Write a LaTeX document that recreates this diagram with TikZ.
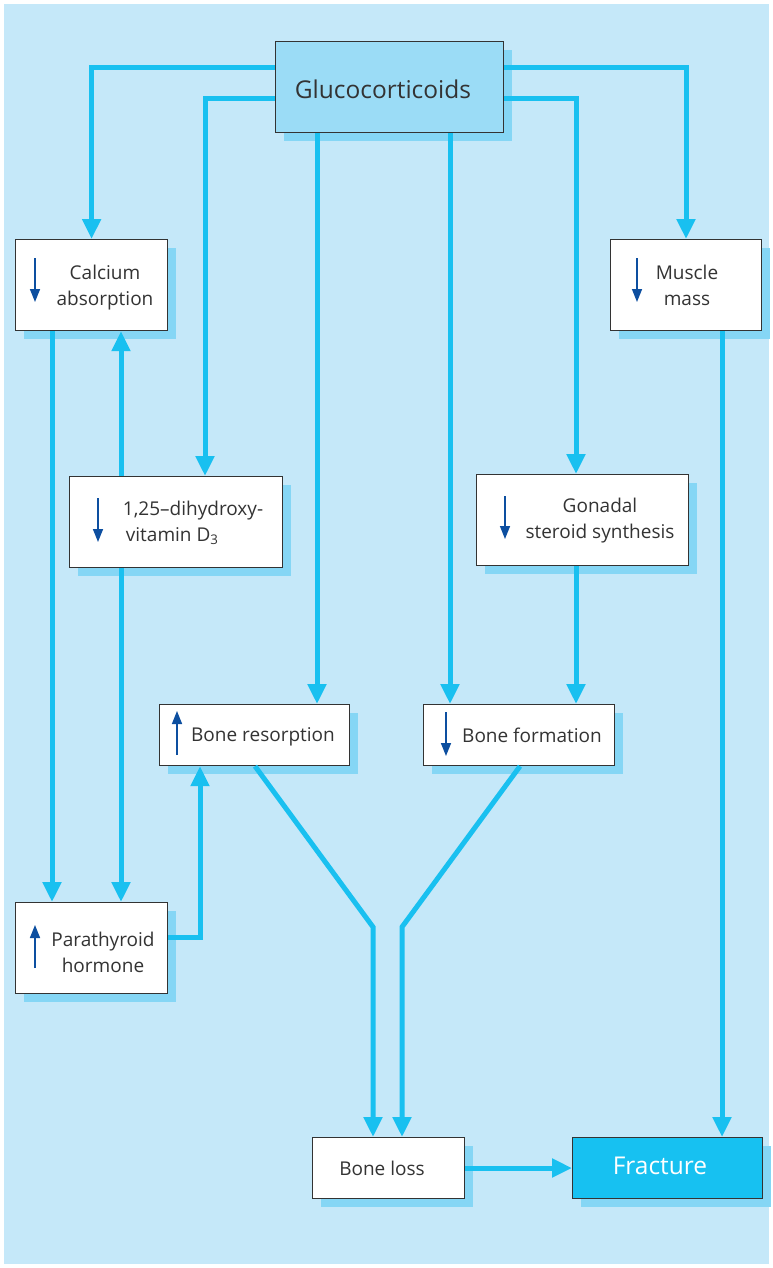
\documentclass[tikz,border=0pt]{standalone}
\usepackage{fontspec}
\setmainfont{Open Sans}
\usetikzlibrary{arrows.meta,shadows}
\definecolor{bgc}{HTML}{C5E8F9}
\definecolor{linec}{HTML}{19C0F0}
\definecolor{shadc}{HTML}{85D6F5}
\definecolor{gluc}{HTML}{9BDCF6}
\definecolor{fracc}{HTML}{17C1F1}
\definecolor{darr}{HTML}{0D4FA0}
\definecolor{txt}{HTML}{333333}
\begin{document}
\begin{tikzpicture}[x=1pt,y=-1pt,
 box/.style={draw=txt, line width=1.2pt, fill=white, anchor=north west, inner sep=0pt,
   general shadow={fill=shadc, draw=none, shadow xshift=8pt, shadow yshift=-8pt}},
 conn/.style={draw=linec, line width=5pt, -{Triangle[width=18pt,length=20pt]}},
 sarr/.style={draw=darr, line width=1.5pt, -{Triangle[width=10pt,length=13pt]}},
 lbl/.style={text=txt, font=\fontsize{19}{26}\selectfont, align=center, inner sep=0pt},
 big/.style={font=\fontsize{24.5}{28}\selectfont, inner sep=0pt}]
\useasboundingbox (0,0) rectangle (773,1268);
\fill[white] (0,0) rectangle (773,1268);
\fill[bgc] (4,4) rectangle (769,1264);

% boxes
\node[box, fill=gluc, minimum width=228pt, minimum height=91pt] (gluco) at (275,41) {};
\node[box, minimum width=152pt, minimum height=91pt] (calc) at (15,239) {};
\node[box, minimum width=151pt, minimum height=91pt] (muscle) at (610,239) {};
\node[box, minimum width=213pt, minimum height=91pt] (vitD) at (69,476) {};
\node[box, minimum width=212pt, minimum height=91pt] (gonad) at (476,474) {};
\node[box, minimum width=190pt, minimum height=61pt] (bres) at (159,704) {};
\node[box, minimum width=191pt, minimum height=61pt] (bform) at (423,704) {};
\node[box, minimum width=152pt, minimum height=91pt] (para) at (15,902) {};
\node[box, minimum width=152pt, minimum height=61pt] (bloss) at (312,1137) {};
\node[box, fill=fracc, minimum width=190pt, minimum height=61pt] (frac) at (572,1137) {};

% labels
\node[big, text=txt] (tgluco) at (383,89) {Glucocorticoids};
\node[lbl] (tcalc) at (105,288) {Calcium\\absorption};
\node[lbl] (tmuscle) at (687,285) {Muscle\\mass};
\node[lbl, align=left] (tvitD) at (193,523) {1,25--dihydroxy-\\\hspace{3pt}vitamin D\textsubscript{3}};
\node[lbl] (tgonad) at (600,521) {Gonadal\\steroid synthesis};
\node[lbl] (tbres) at (263,737) {Bone resorption};
\node[lbl] (tbform) at (532,735) {Bone formation};
\node[lbl] (tpara) at (103,952) {Parathyroid\\hormone};
\node[lbl] (tbloss) at (382,1168) {Bone loss};
\node[big, text=white] (tfrac) at (660,1166) {Fracture};

% small arrows
\draw[sarr] ([shift={(20,19)}]calc.north west) -- ([shift={(20,63)}]calc.north west);
\draw[sarr] ([shift={(27,19)}]muscle.north west) -- ([shift={(27,63)}]muscle.north west);
\draw[sarr] ([shift={(29,22)}]vitD.north west) -- ([shift={(29,66)}]vitD.north west);
\draw[sarr] ([shift={(29,22)}]gonad.north west) -- ([shift={(29,65)}]gonad.north west);
\draw[sarr] ([shift={(18,51)}]bres.north west) -- ([shift={(18,7)}]bres.north west);
\draw[sarr] ([shift={(23,8)}]bform.north west) -- ([shift={(23,52)}]bform.north west);
\draw[sarr] ([shift={(20,66)}]para.north west) -- ([shift={(20,23)}]para.north west);

% connectors
\draw[conn] (gluco.west |- 0,68) -| (calc.north);
\draw[conn] (gluco.west |- 0,99) -| (vitD.north -| 205,0);
\draw[conn] (317,0 |- gluco.south) -- (317,0 |- bres.north);
\draw[conn] (450,0 |- gluco.south) -- (450,0 |- bform.north);
\draw[conn] (gluco.east |- 0,68) -| (muscle.north -| 686,0);
\draw[conn] (gluco.east |- 0,99) -| (gonad.north -| 576,0);
\draw[conn] (576,0 |- gonad.south) -- (576,0 |- bform.north);
\draw[conn] (722,0 |- muscle.south) -- (722,0 |- frac.north);
\draw[conn] (52,0 |- calc.south) -- (52,0 |- para.north);
\draw[conn] (121,0 |- vitD.north) -- (121,0 |- calc.south);
\draw[conn] (121,0 |- vitD.south) -- (121,0 |- para.north);
\draw[conn] (para.east |- 0,937) -| (bres.south -| 200,0);
\draw[conn] (255,0 |- bres.south) -- (373,927) -- (373,0 |- bloss.north);
\draw[conn] (520,0 |- bform.south) -- (402,927) -- (402,0 |- bloss.north);
\draw[conn] (bloss.east |- 0,1168) -- (frac.west |- 0,1168);
\end{tikzpicture}
\end{document}
